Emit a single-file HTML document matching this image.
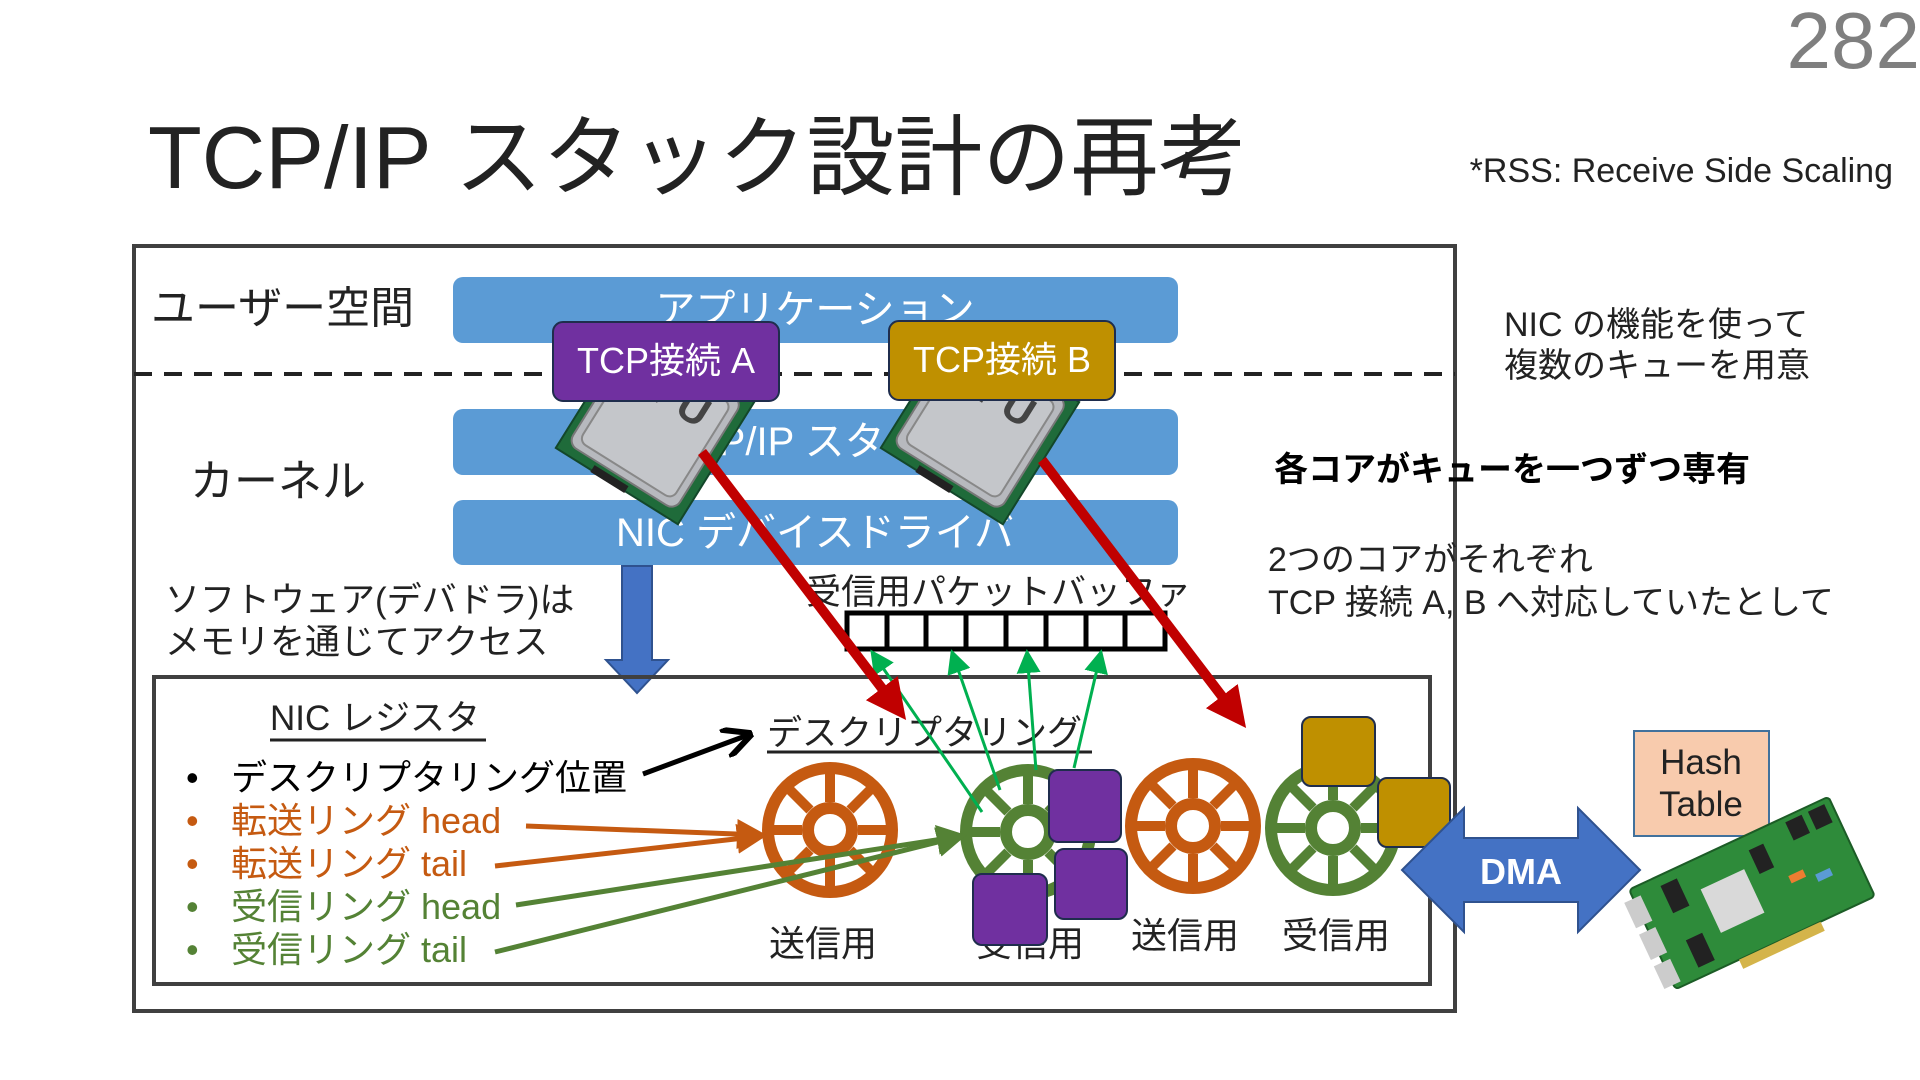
<!DOCTYPE html>
<html><head><meta charset="utf-8"><style>
html,body{margin:0;padding:0;background:#fff;}
svg{display:block;}
text{font-family:"Liberation Sans","Noto Sans CJK JP",sans-serif;}
</style></head><body>
<svg width="1920" height="1080" viewBox="0 0 1920 1080" xmlns="http://www.w3.org/2000/svg">
<defs>
<marker id="ao" markerWidth="6" markerHeight="6" refX="5" refY="3" orient="auto" markerUnits="strokeWidth"><path d="M0,0 L6,3 L0,6 Z" fill="#c55a11"/></marker>
<marker id="ag" markerWidth="6" markerHeight="6" refX="5" refY="3" orient="auto" markerUnits="strokeWidth"><path d="M0,0 L6,3 L0,6 Z" fill="#548235"/></marker>
<marker id="agg" markerWidth="8" markerHeight="8" refX="7" refY="4" orient="auto" markerUnits="strokeWidth"><path d="M0,0 L8,4 L0,8 Z" fill="#00b050"/></marker>
<marker id="ab" markerWidth="6" markerHeight="6" refX="5" refY="3" orient="auto" markerUnits="strokeWidth"><path d="M0,0 L6,3 L0,6" fill="none" stroke="#000" stroke-width="1.2"/></marker>
<marker id="ar" markerWidth="4" markerHeight="4" refX="3" refY="2" orient="auto" markerUnits="strokeWidth"><path d="M0,0 L4,2 L0,4 Z" fill="#c00000"/></marker>
<g id="wheel">
<circle r="62" fill="none" stroke-width="12"/>
<circle r="22" fill="none" stroke-width="12"/>
<g stroke-width="10">
<line x1="28" y1="0" x2="60" y2="0"/><line x1="-28" y1="0" x2="-60" y2="0"/>
<line x1="0" y1="28" x2="0" y2="60"/><line x1="0" y1="-28" x2="0" y2="-60"/>
<line x1="20" y1="20" x2="42" y2="42"/><line x1="-20" y1="20" x2="-42" y2="42"/>
<line x1="20" y1="-20" x2="42" y2="-42"/><line x1="-20" y1="-20" x2="-42" y2="-42"/>
</g>
</g>
<g id="cpu">
<rect x="-72" y="-72" width="144" height="144" fill="#1f6b3a" stroke="#13472a" stroke-width="2"/>
<rect x="-64" y="-66" width="126" height="128" rx="10" fill="#b7b9be" stroke="#777" stroke-width="2"/>
<rect x="-56" y="-58" width="110" height="112" rx="8" fill="#c4c6ca" stroke="#888" stroke-width="2"/>
<text x="-5" y="-20" font-size="42" font-weight="bold" fill="#444" text-anchor="middle">CPU</text>
<rect x="-30" y="66" width="40" height="8" fill="#222"/>
</g>
</defs>

<text x="1920" y="68" font-size="80" fill="#7f7f7f" text-anchor="end">282</text>
<text x="148" y="188" font-size="88" fill="#222">TCP/IP スタック設計の再考</text>
<text x="1893" y="182" font-size="34" fill="#222" text-anchor="end">*RSS: Receive Side Scaling</text>

<rect x="134" y="246" width="1321" height="765" fill="none" stroke="#404040" stroke-width="4"/>
<line x1="134" y1="374" x2="1455" y2="374" stroke="#222" stroke-width="4" stroke-dasharray="18,12"/>

<rect x="453" y="277" width="725" height="66" rx="10" fill="#5b9bd5"/>
<text x="815" y="323" font-size="40" fill="#fff" text-anchor="middle">アプリケーション</text>
<rect x="453" y="409" width="725" height="66" rx="10" fill="#5b9bd5"/>
<text x="815" y="455" font-size="40" fill="#fff" text-anchor="middle">TCP/IP スタック</text>
<rect x="453" y="500" width="725" height="65" rx="10" fill="#5b9bd5"/>
<text x="815" y="546" font-size="40" fill="#fff" text-anchor="middle">NIC デバイスドライバ</text>

<text x="151" y="323" font-size="44" fill="#222">ユーザー空間</text>
<text x="190" y="496" font-size="44" fill="#222">カーネル</text>

<g transform="translate(655,425) rotate(32)"><use href="#cpu"/></g>
<g transform="translate(980,425) rotate(32)"><use href="#cpu"/></g>

<rect x="553" y="322" width="226" height="79" rx="10" fill="#7030a0" stroke="#1f2d4d" stroke-width="2"/>
<text x="666" y="373" font-size="36" fill="#fff" text-anchor="middle">TCP接続 A</text>
<rect x="889" y="321" width="226" height="79" rx="10" fill="#bf9000" stroke="#1f2d4d" stroke-width="2"/>
<text x="1002" y="372" font-size="36" fill="#fff" text-anchor="middle">TCP接続 B</text>

<text x="1504" y="336" font-size="34" fill="#222">NIC の機能を使って</text>
<text x="1504" y="377" font-size="34" fill="#222">複数のキューを用意</text>
<text x="1274" y="481" font-size="34" font-weight="bold" fill="#000">各コアがキューを一つずつ専有</text>
<text x="1268" y="571" font-size="34" fill="#222">2つのコアがそれぞれ</text>
<text x="1268" y="614" font-size="34" fill="#222">TCP 接続 A, B へ対応していたとして</text>

<text x="165" y="612" font-size="35" fill="#222">ソフトウェア(デバドラ)は</text>
<text x="165" y="654" font-size="35" fill="#222">メモリを通じてアクセス</text>

<path d="M622,566 L652,566 L652,660 L668,660 L637,693 L606,660 L622,660 Z" fill="#4472c4" stroke="#2f528f" stroke-width="2"/>

<rect x="154" y="677" width="1276" height="307" fill="none" stroke="#404040" stroke-width="4"/>

<text x="806" y="604" font-size="35" fill="#222">受信用パケットバッファ</text>
<g fill="#fff" stroke="#000" stroke-width="5">
<rect x="847" y="613" width="318" height="36"/>
</g>
<g stroke="#000" stroke-width="5">
<line x1="887" y1="613" x2="887" y2="649"/><line x1="926" y1="613" x2="926" y2="649"/><line x1="966" y1="613" x2="966" y2="649"/><line x1="1006" y1="613" x2="1006" y2="649"/><line x1="1046" y1="613" x2="1046" y2="649"/><line x1="1086" y1="613" x2="1086" y2="649"/><line x1="1125" y1="613" x2="1125" y2="649"/>
</g>

<text x="270" y="730" font-size="35" fill="#222">NIC レジスタ</text>
<line x1="270" y1="740" x2="486" y2="740" stroke="#222" stroke-width="3"/>
<text x="767" y="745" font-size="35" fill="#222">デスクリプタリング</text>
<line x1="767" y1="752" x2="1092" y2="752" stroke="#222" stroke-width="3"/>

<g font-size="36">
<text x="186" y="790" fill="#000">•</text><text x="231" y="790" fill="#000">デスクリプタリング位置</text>
<text x="186" y="833" fill="#c55a11">•</text><text x="231" y="833" fill="#c55a11">転送リング head</text>
<text x="186" y="876" fill="#c55a11">•</text><text x="231" y="876" fill="#c55a11">転送リング tail</text>
<text x="186" y="919" fill="#548235">•</text><text x="231" y="919" fill="#548235">受信リング head</text>
<text x="186" y="962" fill="#548235">•</text><text x="231" y="962" fill="#548235">受信リング tail</text>
</g>

<use href="#wheel" transform="translate(830,830)" stroke="#c55a11"/>
<use href="#wheel" transform="translate(1028,832)" stroke="#548235"/>
<use href="#wheel" transform="translate(1193,826)" stroke="#c55a11"/>
<use href="#wheel" transform="translate(1333,828)" stroke="#548235"/>

<line x1="643" y1="774" x2="748" y2="735" stroke="#000" stroke-width="5" marker-end="url(#ab)"/>
<line x1="526" y1="826" x2="762" y2="835" stroke="#c55a11" stroke-width="5" marker-end="url(#ao)"/>
<line x1="495" y1="866" x2="762" y2="836" stroke="#c55a11" stroke-width="5" marker-end="url(#ao)"/>
<line x1="516" y1="905" x2="962" y2="836" stroke="#548235" stroke-width="5" marker-end="url(#ag)"/>
<line x1="495" y1="952" x2="962" y2="836" stroke="#548235" stroke-width="5" marker-end="url(#ag)"/>

<g stroke="#00b050" stroke-width="3">
<line x1="982" y1="812" x2="872" y2="652" marker-end="url(#agg)"/>
<line x1="1000" y1="790" x2="952" y2="652" marker-end="url(#agg)"/>
<line x1="1036" y1="770" x2="1027" y2="652" marker-end="url(#agg)"/>
<line x1="1074" y1="768" x2="1101" y2="652" marker-end="url(#agg)"/>
</g>

<line x1="702" y1="452" x2="900" y2="712" stroke="#c00000" stroke-width="10" marker-end="url(#ar)"/>
<line x1="1042" y1="460" x2="1240" y2="720" stroke="#c00000" stroke-width="10" marker-end="url(#ar)"/>

<g fill="#7030a0" stroke="#1f2d4d" stroke-width="2">
<rect x="1049" y="770" width="72" height="72" rx="9"/>
<rect x="1055" y="849" width="72" height="70" rx="9"/>
</g>
<text x="769" y="956" font-size="36" fill="#222">送信用</text>
<text x="976" y="956" font-size="36" fill="#222">受信用</text>
<rect x="973" y="874" width="74" height="71" rx="9" fill="#7030a0" stroke="#1f2d4d" stroke-width="2"/>
<text x="1131" y="948" font-size="36" fill="#222">送信用</text>
<text x="1282" y="948" font-size="36" fill="#222">受信用</text>
<g fill="#bf9000" stroke="#1f2d4d" stroke-width="2">
<rect x="1302" y="717" width="73" height="69" rx="9"/>
<rect x="1378" y="778" width="72" height="69" rx="9"/>
</g>

<path d="M1402,870 L1464,808 L1464,838 L1578,838 L1578,808 L1640,870 L1578,932 L1578,902 L1464,902 L1464,932 Z" fill="#4472c4" stroke="#2f528f" stroke-width="2"/>
<text x="1521" y="884" font-size="36" font-weight="bold" fill="#fff" text-anchor="middle">DMA</text>

<rect x="1634" y="731" width="135" height="105" fill="#f8cbad" stroke="#41719c" stroke-width="2"/>
<text x="1701" y="774" font-size="35" fill="#222" text-anchor="middle">Hash</text>
<text x="1701" y="816" font-size="35" fill="#222" text-anchor="middle">Table</text>

<g transform="translate(1752,893) rotate(-25)">
<rect x="-110" y="-55" width="220" height="110" rx="4" fill="#2e8b3a" stroke="#1c5c26" stroke-width="2"/>
<rect x="-45" y="-25" width="48" height="48" fill="#d9d9d9"/>
<rect x="-120" y="-45" width="18" height="28" fill="#ccc"/>
<rect x="-120" y="-10" width="18" height="28" fill="#ccc"/>
<rect x="-120" y="25" width="18" height="25" fill="#ccc"/>
<rect x="-80" y="-45" width="18" height="30" fill="#222"/>
<rect x="-80" y="15" width="18" height="30" fill="#222"/>
<rect x="15" y="-40" width="16" height="26" fill="#222"/>
<rect x="60" y="-50" width="18" height="20" fill="#222"/>
<rect x="85" y="-50" width="18" height="20" fill="#222"/>
<rect x="40" y="0" width="16" height="8" fill="#ed7d31"/>
<rect x="65" y="10" width="16" height="8" fill="#5b9bd5"/>
<rect x="-40" y="55" width="90" height="10" fill="#d4b44a"/>
</g>
</svg>
</body></html>
